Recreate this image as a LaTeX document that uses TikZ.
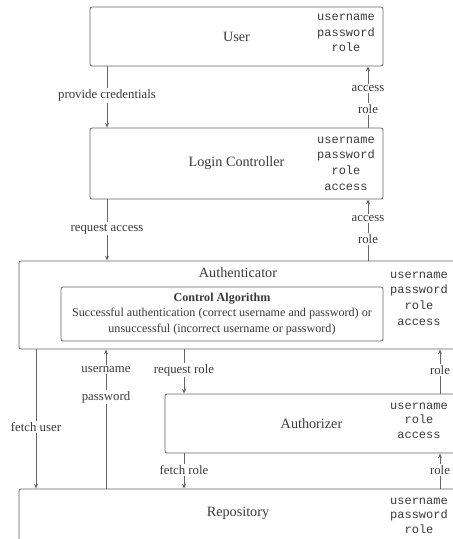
\documentclass[tikz,border=0pt]{standalone}
\usepackage{fontspec}
\setmainfont{Liberation Serif}
\setmonofont{Liberation Mono}
\usetikzlibrary{arrows.meta}
\definecolor{ln}{HTML}{666666}
\definecolor{tx}{HTML}{3A3A3A}
\begin{document}
\begin{tikzpicture}[x=1pt,y=-1pt,
  box/.style={draw=ln, line width=0.8pt, rounded corners=2pt, inner sep=0pt, text=tx, font=\fontsize{14.2}{17}\selectfont},
  ttl/.style={text=tx, inner sep=0pt, font=\fontsize{14.2}{17}\selectfont},
  attr/.style={text=tx, inner sep=0pt, align=center, font=\ttfamily\fontsize{12}{15.7}\selectfont},
  attrs/.style={text=tx, inner sep=0pt, align=center, font=\ttfamily\fontsize{12}{14.6}\selectfont},
  lbl/.style={fill=white, text=tx, inner sep=1.5pt, font=\fontsize{12.8}{15}\selectfont},
  arr/.style={draw=ln, line width=0.8pt, -{Stealth[length=5pt,width=4pt]}}]
\useasboundingbox (0,0) rectangle (453,539);
\clip (0,0) rectangle (453,539);
% boxes
\node[box, minimum width=293pt, minimum height=59pt] (user) at (236.5,36.5) {User};
\node[box, minimum width=293pt, minimum height=71pt] (lc) at (236.5,163.5) {Login Controller};
\node[box, minimum width=439pt, minimum height=88pt] (auth) at (238.5,305) {};
\node[ttl] (authttl) at (238,273) {Authenticator};
\node[box, minimum width=322pt, minimum height=54pt, align=center, font=\fontsize{12.1}{15.5}\selectfont] (ctrl) at (222,314)
  {\textbf{Control Algorithm}\\Successful authentication (correct username and password) or\\unsuccessful (incorrect username or password)};
\node[box, minimum width=293pt, minimum height=59pt] (authz) at (311.5,423.5) {Authorizer};
\node[box, minimum width=439pt, minimum height=120pt] (repo) at (238.5,549) {};
\node[ttl] (repottl) at (238,513) {Repository};
% attributes
\node[attr] (userattr) at (346,33) {username\\password\\role};
\node[attr] (lcattr) at (346,163.5) {username\\password\\role\\access};
\node[attr] (authattr) at (419,298.5) {username\\password\\role\\access};
\node[attrs] (authzattr) at (419,420.5) {username\\role\\access};
\node[attrs] (repoattr) at (419,515.5) {username\\password\\role};
% columns
\coordinate (xa) at (107,0);
\coordinate (xb) at (368,0);
\coordinate (xc) at (36,0);
\coordinate (xd) at (106,0);
\coordinate (xe) at (184,0);
\coordinate (xf) at (440,0);
% connectors
\draw[arr] (user.south -| xa) -- (lc.north -| xa) node[lbl, pos=0.48] {provide credentials};
\draw[arr] (lc.north -| xb) -- (user.south -| xb) node[lbl, pos=0.645] {access} node[lbl, pos=0.306] {role};
\draw[arr] (lc.south -| xa) -- (auth.north -| xa) node[lbl, pos=0.48] {request access};
\draw[arr] (auth.north -| xb) -- (lc.south -| xb) node[lbl, pos=0.69] {access} node[lbl, pos=0.355] {role};
\draw[arr] (auth.south -| xc) -- (repo.north -| xc) node[lbl, pos=0.557] {fetch user};
\draw[arr] (repo.north -| xd) -- (auth.south -| xd) node[lbl, pos=0.857] {username} node[lbl, pos=0.657] {password};
\draw[arr] (auth.south -| xe) -- (authz.north -| xe) node[lbl, pos=0.47] {request role};
\draw[arr] (authz.north -| xf) -- (auth.south -| xf) node[lbl, pos=0.53] {role};
\draw[arr] (authz.south -| xe) -- (repo.north -| xe) node[lbl, pos=0.47] {fetch role};
\draw[arr] (repo.north -| xf) -- (authz.south -| xf) node[lbl, pos=0.53] {role};
\end{tikzpicture}
\end{document}
